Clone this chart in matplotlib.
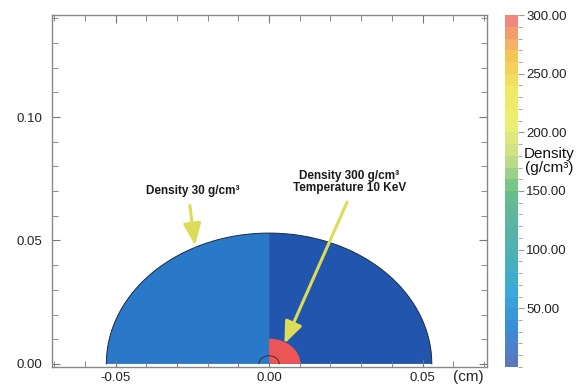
import matplotlib
matplotlib.use("Agg")
import matplotlib.pyplot as plt
from matplotlib.patches import Wedge
from matplotlib.colors import LinearSegmentedColormap, Normalize
from matplotlib.cm import ScalarMappable
from matplotlib.ticker import MultipleLocator, FormatStrFormatter
import numpy as np

plt.rcParams['font.family'] = ['Liberation Sans', 'DejaVu Sans']

# target geometry (cm)
shell_radius = 0.053
core_radius = 0.0102
hot_spot_radius = 0.0033

# fill colours of the two halves of the shell and the core
shell_left_color = '#2a78c8'
shell_right_color = '#2255ae'
core_color = '#ec5656'

# colour bar
density_min, density_max = 0.0, 300.0
cbar_ticks = [50, 100, 150, 200, 250, 300]
cbar_stops = ['#5a78c0', '#3a8ed8', '#3aa8dc', '#4cb0b8', '#5ab4a4',
              '#6abf88', '#c8e08a', '#eef070', '#f0e862', '#f5c458', '#f2887a']

# annotations: text, text position, arrow tip
notes = ['Density 30 g/cm³', 'Density 300 g/cm³\nTemperature 10 KeV']
note_xy = [(-0.0258, 0.0642), (0.0254, 0.0655)]
note_tip = [(-0.0241, 0.0480), (0.0050, 0.0082)]

fig = plt.figure(figsize=(5.84, 3.87), dpi=100)
ax = fig.add_axes([0.089, 0.052, 0.745, 0.909])

ax.add_patch(Wedge((0, 0), shell_radius, 90, 180, facecolor=shell_left_color,
                   edgecolor='none'))
ax.add_patch(Wedge((0, 0), shell_radius, 0, 90, facecolor=shell_right_color,
                   edgecolor='none'))
ax.add_patch(Wedge((0, 0), core_radius, 0, 90, facecolor=core_color,
                   edgecolor='none'))
t = np.linspace(0, np.pi, 120)
ax.plot(shell_radius * np.cos(t), shell_radius * np.sin(t),
        color='#1a2a40', lw=0.7)
ax.plot(hot_spot_radius * np.cos(t), hot_spot_radius * np.sin(t),
        color='#402020', lw=0.6)

ax.set_xlim(-0.0707, 0.071)
ax.set_ylim(-0.0012, 0.1413)

ax.xaxis.set_major_locator(MultipleLocator(0.05))
ax.xaxis.set_minor_locator(MultipleLocator(0.01))
ax.yaxis.set_major_locator(MultipleLocator(0.05))
ax.yaxis.set_minor_locator(MultipleLocator(0.01))
ax.xaxis.set_major_formatter(FormatStrFormatter('%.2f'))
ax.yaxis.set_major_formatter(FormatStrFormatter('%.2f'))
ax.tick_params(which='both', direction='in', top=True, right=True,
               color='#777777', labelsize=9.5, labelcolor='#222222')
ax.tick_params(which='major', length=6)
ax.tick_params(which='minor', length=4)
ax.tick_params(axis='x', which='major', pad=4)
ax.tick_params(axis='y', which='major', pad=7)
for s in ax.spines.values():
    s.set_color('#888888')
    s.set_linewidth(1.0)

for text, xy, tip in zip(notes, note_xy, note_tip):
    ax.annotate('', xy=tip, xytext=xy,
                arrowprops=dict(arrowstyle='-|>,head_width=0.45,head_length=1.1',
                                color='#dcdc58', lw=2.2, shrinkA=0, shrinkB=0,
                                mutation_scale=12))
    ax.text(xy[0] + 0.0008, xy[1] + 0.0035, text, ha='center', va='bottom',
            family=['Liberation Sans Narrow', 'Liberation Sans', 'DejaVu Sans'],
            fontweight='bold', fontsize=8.5, color='#1a1a1a', linespacing=1.0)

fig.text(468 / 584, 1 - 377 / 387, '(cm)', ha='center', va='center',
         fontsize=11, color='#222222')

# colour bar with banded colours
cmap = LinearSegmentedColormap.from_list('density', cbar_stops, N=30)
cax = fig.add_axes([0.865, 0.052, 0.022, 0.909])
cb = fig.colorbar(ScalarMappable(norm=Normalize(density_min, density_max), cmap=cmap),
                  cax=cax, ticks=cbar_ticks, format='%.2f')
cb.outline.set_visible(False)
cax.yaxis.set_minor_locator(MultipleLocator(10))
cax.tick_params(which='both', color='#999999', labelsize=9.5, labelcolor='#222222')
cax.tick_params(which='major', length=4, pad=2)
cax.tick_params(which='minor', length=3)
fig.text(549 / 584, 1 - 161 / 387, 'Density\n(g/cm³)', ha='center', va='center',
         fontsize=11, color='#111111', linespacing=1.05)

fig.savefig('out.png', dpi=100)
